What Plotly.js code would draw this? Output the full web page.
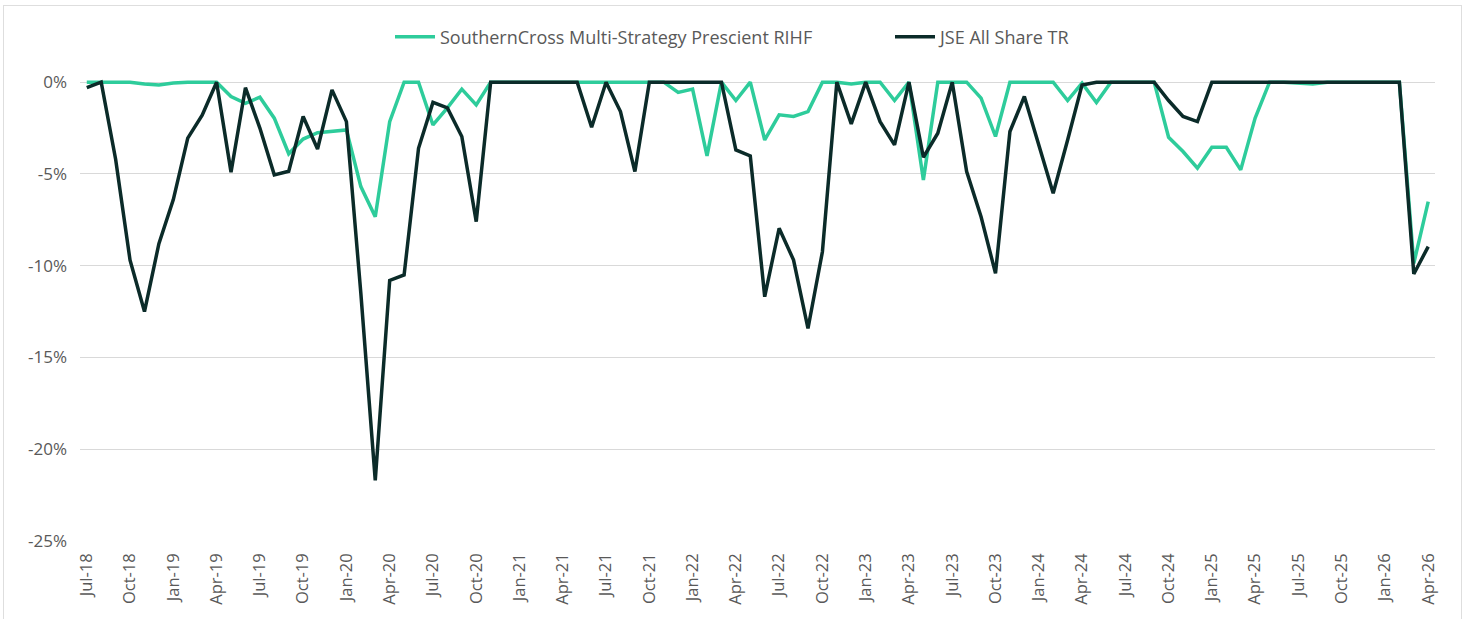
<!DOCTYPE html>
<html>
<head>
<meta charset="utf-8">
<script src="https://cdn.plot.ly/plotly-3.0.1.min.js"></script>
<style>
  html, body { margin: 0; padding: 0; background: #ffffff; }
  #chart { position: absolute; left: 0; top: 0; width: 1472px; height: 619px; }
  #frame { position: absolute; left: 3px; top: 5px; width: 1457px; height: 620px; border: 1px solid #dedede; pointer-events: none; }
</style>
</head>
<body>
<div id="chart"></div>
<div id="frame"></div>
<script>
// Monthly categories Jul-18 .. Apr-26
const months = [
  "Jul-18","Aug-18","Sep-18","Oct-18","Nov-18","Dec-18",
  "Jan-19","Feb-19","Mar-19","Apr-19","May-19","Jun-19","Jul-19","Aug-19","Sep-19","Oct-19","Nov-19","Dec-19",
  "Jan-20","Feb-20","Mar-20","Apr-20","May-20","Jun-20","Jul-20","Aug-20","Sep-20","Oct-20","Nov-20","Dec-20",
  "Jan-21","Feb-21","Mar-21","Apr-21","May-21","Jun-21","Jul-21","Aug-21","Sep-21","Oct-21","Nov-21","Dec-21",
  "Jan-22","Feb-22","Mar-22","Apr-22","May-22","Jun-22","Jul-22","Aug-22","Sep-22","Oct-22","Nov-22","Dec-22",
  "Jan-23","Feb-23","Mar-23","Apr-23","May-23","Jun-23","Jul-23","Aug-23","Sep-23","Oct-23","Nov-23","Dec-23",
  "Jan-24","Feb-24","Mar-24","Apr-24","May-24","Jun-24","Jul-24","Aug-24","Sep-24","Oct-24","Nov-24","Dec-24",
  "Jan-25","Feb-25","Mar-25","Apr-25","May-25","Jun-25","Jul-25","Aug-25","Sep-25","Oct-25","Nov-25","Dec-25",
  "Jan-26","Feb-26","Mar-26","Apr-26"
];

// Drawdown (%) - SouthernCross Multi-Strategy Prescient RIHF
const southernCross = [
  0, 0, 0, 0, -0.1, -0.15,
  -0.05, 0, 0, 0, -0.78, -1.15, -0.82, -1.96, -3.9, -3.1, -2.75, -2.66,
  -2.6, -5.69, -7.33, -2.15, 0, 0, -2.33, -1.4, -0.38, -1.24, 0, 0,
  0, 0, 0, 0, 0, 0, 0, 0, 0, 0, 0, -0.56,
  -0.38, -4.02, 0, -1.0, 0, -3.15, -1.78, -1.87, -1.6, 0, 0, -0.1,
  0, 0, -1.0, 0, -5.33, 0, 0, 0, -0.87, -2.96, 0, 0,
  0, 0, -1.0, -0.05, -1.11, 0, 0, 0, 0, -3.0, -3.78, -4.69,
  -3.55, -3.55, -4.78, -1.96, 0, 0, -0.05, -0.1, 0, 0, 0, 0,
  0, 0, -9.87, -6.51
];

// Drawdown (%) - JSE All Share TR
const jseAllShare = [
  -0.3, 0, -4.2, -9.7, -12.5, -8.8,
  -6.4, -3.05, -1.8, 0, -4.9, -0.3, -2.5, -5.05, -4.85, -1.87, -3.64, -0.42,
  -2.15, -11.5, -21.7, -10.8, -10.5, -3.6, -1.1, -1.4, -2.96, -7.6, 0, 0,
  0, 0, 0, 0, 0, -2.46, 0, -1.6, -4.87, 0, 0, 0,
  0, 0, 0, -3.69, -4.02, -11.69, -7.96, -9.69, -13.42, -9.24, 0, -2.27,
  0, -2.15, -3.42, 0, -4.09, -2.78, 0, -4.87, -7.33, -10.42, -2.69, -0.78,
  -3.42, -6.05, -3.15, -0.15, 0, 0, 0, 0, 0, -1.0, -1.87, -2.15,
  0, 0, 0, 0, 0, 0, 0, 0, 0, 0, 0, 0,
  0, 0, -10.45, -8.96
];

const seriesNames = ["SouthernCross Multi-Strategy Prescient RIHF", "JSE All Share TR"];

const xTickLabels = [
  "Jul-18","Oct-18","Jan-19","Apr-19","Jul-19","Oct-19","Jan-20","Apr-20","Jul-20","Oct-20",
  "Jan-21","Apr-21","Jul-21","Oct-21","Jan-22","Apr-22","Jul-22","Oct-22","Jan-23","Apr-23",
  "Jul-23","Oct-23","Jan-24","Apr-24","Jul-24","Oct-24","Jan-25","Apr-25","Jul-25","Oct-25",
  "Jan-26","Apr-26"
];

const yTickValues = [0, -5, -10, -15, -20, -25];
const yTickLabels = ["0%", "-5%", "-10%", "-15%", "-20%", "-25%"];

const textColor = "#595959";
const fontFamily = "'Open Sans', 'Noto Sans', sans-serif";

const traces = [
  {
    x: months, y: southernCross, name: seriesNames[0], type: "scatter", mode: "lines",
    line: { color: "#2ecc9b", width: 3.5 }
  },
  {
    x: months, y: jseAllShare, name: seriesNames[1], type: "scatter", mode: "lines",
    line: { color: "#0b2b29", width: 3.5 }
  }
];

const layout = {
  width: 1472, height: 619,
  paper_bgcolor: "#ffffff", plot_bgcolor: "#ffffff",
  margin: { l: 80, r: 37, t: 73, b: 78 },
  font: { family: fontFamily, color: textColor, size: 16 },
  showlegend: true,
  legend: {
    orientation: "h", xref: "container", yref: "container",
    x: 390 / 1472, xanchor: "left", y: 0.94, yanchor: "middle",
    font: { family: fontFamily, size: 18, color: textColor },
    itemwidth: 40, traceorder: "normal",
    entrywidth: 445, entrywidthmode: "pixels"
  },
  xaxis: {
    type: "category",
    categoryorder: "array", categoryarray: months,
    range: [-0.47, 93.47],
    tickmode: "array", tickvals: xTickLabels, ticktext: xTickLabels,
    tickangle: -90,
    tickfont: { family: fontFamily, size: 16.5, color: textColor },
    showgrid: false, zeroline: false, showline: false,
    ticks: "", ticklabelstandoff: 8,
    fixedrange: true
  },
  yaxis: {
    range: [-25, 0.5],
    tickmode: "array", tickvals: yTickValues, ticktext: yTickLabels,
    tickfont: { family: fontFamily, size: 17, color: textColor },
    showgrid: true, gridcolor: "#d9d9d9", gridwidth: 1,
    zeroline: false, showline: false, ticks: "",
    ticklabelstandoff: 12,
    fixedrange: true
  },
  hovermode: false
};

Plotly.newPlot("chart", traces, layout, { displayModeBar: false, staticPlot: true });
</script>
</body>
</html>
